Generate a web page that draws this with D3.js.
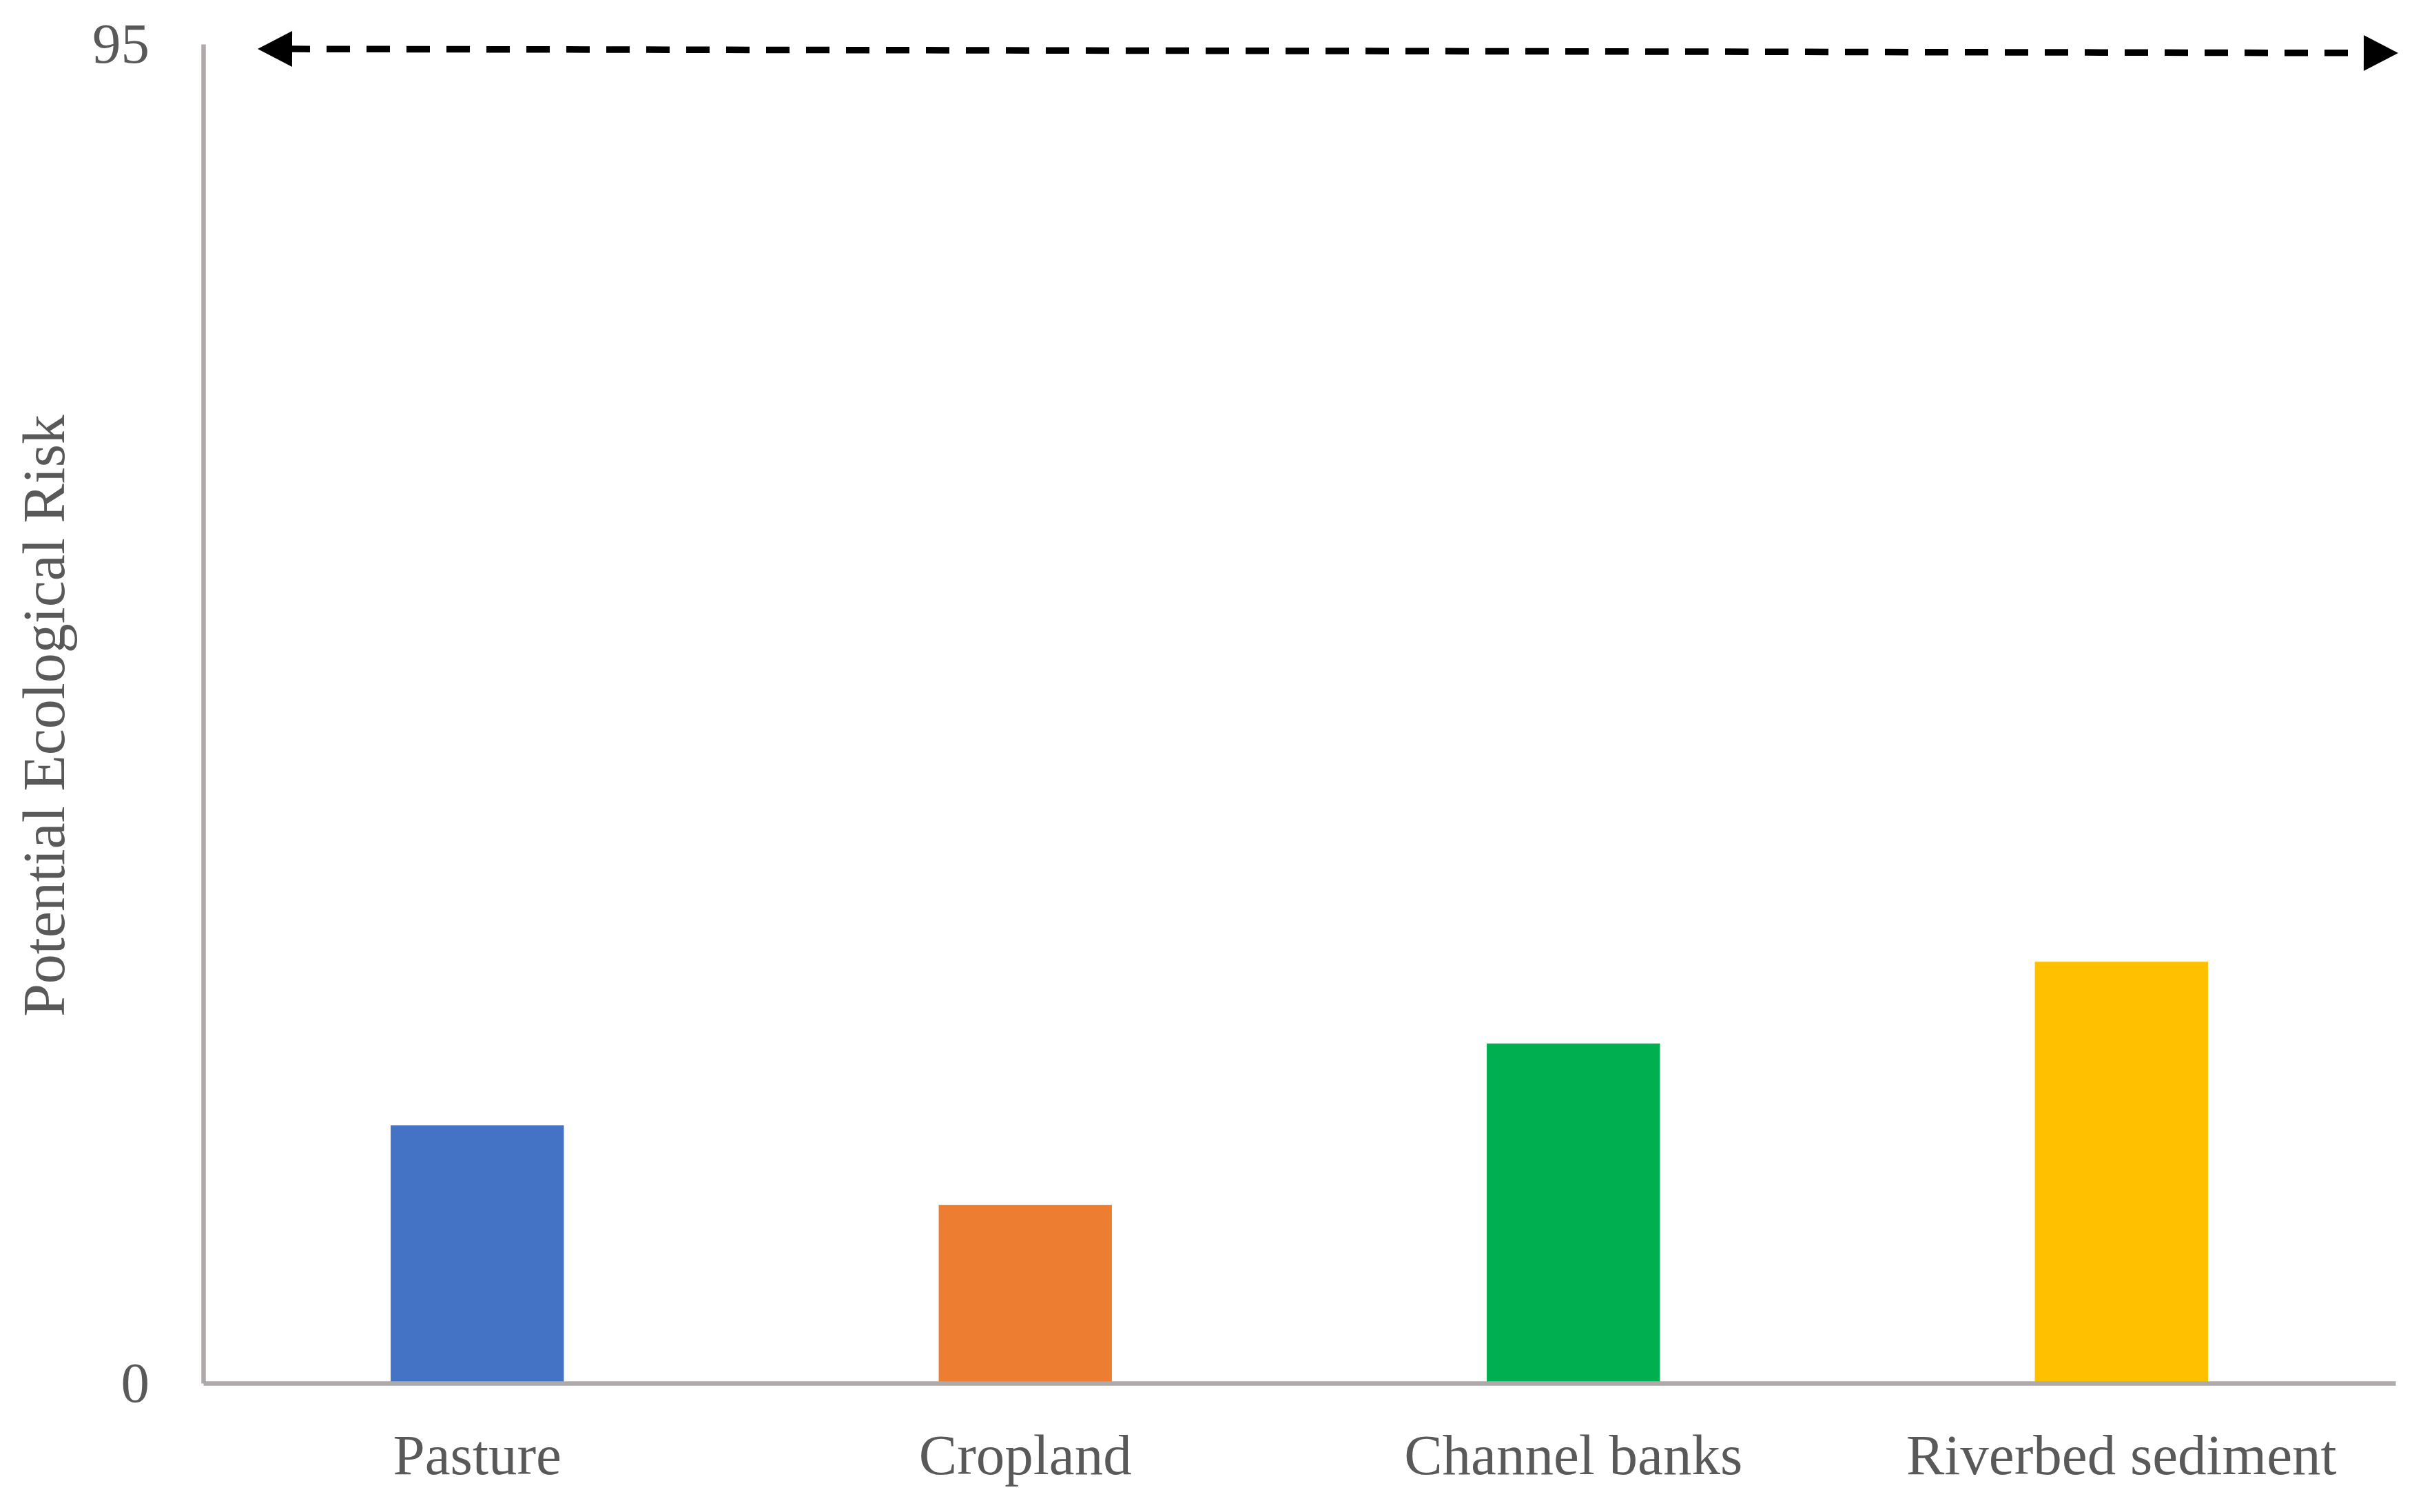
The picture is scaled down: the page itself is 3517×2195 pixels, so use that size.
<!DOCTYPE html>
<html>
<head>
<meta charset="utf-8">
<script src="https://cdn.jsdelivr.net/npm/d3@7"></script>
<style>
  html, body { margin: 0; padding: 0; background: #fff; }
  svg { display: block; }
  text { font-family: "Liberation Serif", "Times New Roman", serif; }
</style>
</head>
<body>
<script>
// ---- data ----
const categories = ["Pasture", "Cropland", "Channel banks", "Riverbed sediment"];
const values = [18.3, 12.65, 24.1, 29.9];
const barColors = ["#4472C4", "#ED7D31", "#00B050", "#FFC000"];
const yTickValues = [0, 95];
const yTitle = "Potential Ecological Risk";

// ---- layout ----
const W = 3517, H = 2195;
const plot = { left: 295, right: 3477, top: 64, bottom: 2008 };
const axisColor = "#AEAAAA";
const textColor = "#595959";

const svg = d3.select("body").append("svg")
  .attr("width", W).attr("height", H)
  .attr("viewBox", `0 0 ${W} ${H}`);

const x = d3.scaleBand()
  .domain(categories)
  .range([plot.left, plot.right])
  .paddingInner(0.684)
  .paddingOuter(0.342);

const y = d3.scaleLinear()
  .domain([0, 95])
  .range([plot.bottom, plot.top]);

// bars
svg.append("g").selectAll("rect")
  .data(categories.map((c, i) => ({ c, v: values[i], col: barColors[i] })))
  .join("rect")
  .attr("x", d => x(d.c))
  .attr("width", x.bandwidth())
  .attr("y", d => y(d.v))
  .attr("height", d => y(0) - y(d.v))
  .attr("fill", d => d.col);

// y axis
const gy = svg.append("g")
  .attr("transform", `translate(${plot.left},0)`)
  .call(d3.axisLeft(y).tickValues(yTickValues).tickSize(0).tickSizeOuter(0).tickPadding(78));
gy.select(".domain").attr("stroke", axisColor).attr("stroke-width", 6.5);
gy.selectAll("text")
  .attr("font-family", "Liberation Serif, serif")
  .attr("font-size", 83)
  .attr("fill", textColor);

// x axis
const gx = svg.append("g")
  .attr("transform", `translate(0,${plot.bottom})`)
  .call(d3.axisBottom(x).tickSize(0).tickSizeOuter(0));
gx.select(".domain").attr("stroke", axisColor).attr("stroke-width", 6.5);
gx.selectAll("text")
  .attr("y", 132).attr("dy", 0)
  .attr("font-family", "Liberation Serif, serif")
  .attr("font-size", 83)
  .attr("fill", textColor);

// y-axis title
svg.append("text")
  .attr("transform", `translate(93,1039) rotate(-90)`)
  .attr("text-anchor", "middle")
  .attr("font-size", 86)
  .attr("fill", textColor)
  .text(yTitle);

// double-headed dashed arrow across the top
const arrow = { x1: 374, y1: 71, x2: 3481, y2: 77, head: 50, half: 26 };
const dx = arrow.x2 - arrow.x1, dy = arrow.y2 - arrow.y1;
const len = Math.hypot(dx, dy), ux = dx / len, uy = dy / len;
const lx1 = arrow.x1 + ux * arrow.head, ly1 = arrow.y1 + uy * arrow.head;
const lx2 = arrow.x2 - ux * arrow.head, ly2 = arrow.y2 - uy * arrow.head;
svg.append("line")
  .attr("x1", lx1).attr("y1", ly1).attr("x2", lx2).attr("y2", ly2)
  .attr("stroke", "#000").attr("stroke-width", 9.5)
  .attr("stroke-dasharray", "34,24")
  .attr("stroke-dashoffset", 8);
function head(tx, ty, bx, by) {
  const px = -uy * arrow.half, py = ux * arrow.half;
  return `M${tx},${ty}L${bx + px},${by + py}L${bx - px},${by - py}Z`;
}
svg.append("path").attr("d", head(arrow.x1, arrow.y1, lx1, ly1)).attr("fill", "#000");
svg.append("path").attr("d", head(arrow.x2, arrow.y2, lx2, ly2)).attr("fill", "#000");
</script>
</body>
</html>
